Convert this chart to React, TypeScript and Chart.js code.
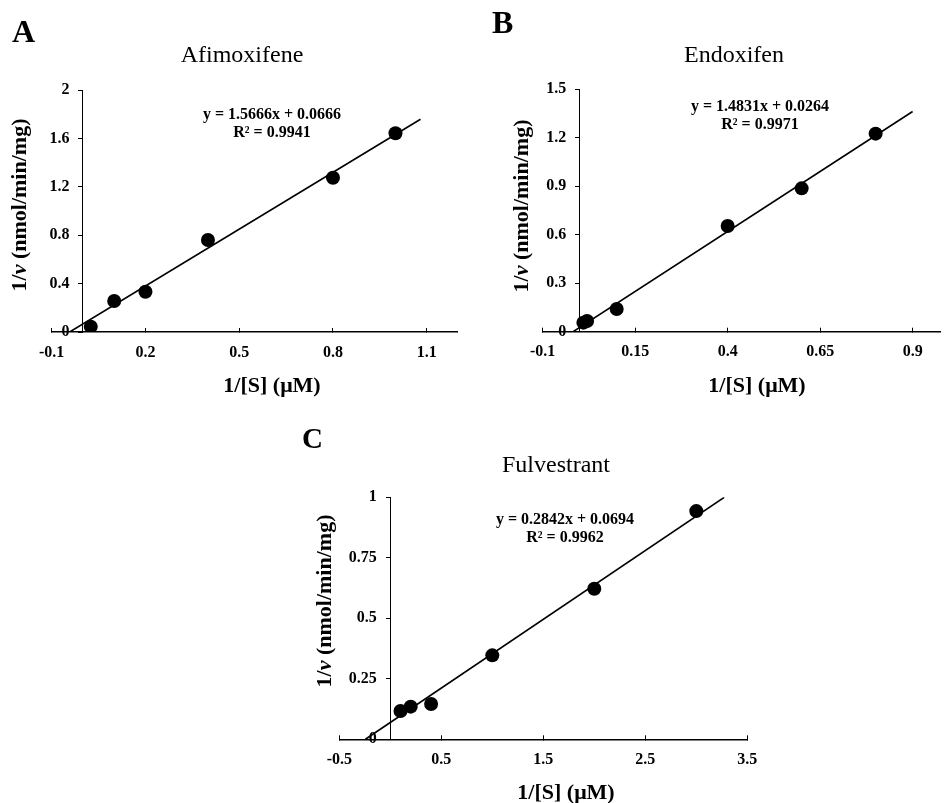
import React, { useEffect, useRef } from "react";
import { Chart, registerables, LinearScale } from "chart.js";

// Linear scale whose labels keep their tick length + padding away from an axis
// that is placed at a data value (position: { x: 0 }).
class OffsetLinearScale extends (LinearScale as any) {
  static id = "offsetLinear";
  static defaults = (LinearScale as any).defaults;
  _computeLabelItems(chartArea: any) {
    const items = super._computeLabelItems(chartArea);
    const opts = this.options;
    const off = (opts.grid.drawTicks ? opts.grid.tickLength : 0) + opts.ticks.padding;
    items.forEach((it: any) => {
      const t = it.options.translation;
      it.options.translation = [t[0] - off, t[1]];
    });
    return items;
  }
}

Chart.register(...registerables, OffsetLinearScale as any);

const FONT = "'Liberation Serif', 'Times New Roman', serif";
const PAGE_W = 947;
const PAGE_H = 803;

// ---------- Panel A: Afimoxifene ----------
const afimoxX = [0.025, 0.1, 0.2, 0.4, 0.8, 1.0];
const afimoxY = [0.044, 0.256, 0.333, 0.76, 1.275, 1.642];
const afimoxXTicks = [-0.1, 0.2, 0.5, 0.8, 1.1];
const afimoxYTicks = [0, 0.4, 0.8, 1.2, 1.6, 2];
const afimoxFit = [1.5666, 0.0666]; // slope, intercept
const afimoxR2 = "0.9941";
const afimoxFitRange = [-0.0425, 1.08];

// ---------- Panel B: Endoxifen ----------
const endoxX = [0.01, 0.02, 0.1, 0.4, 0.6, 0.8];
const endoxY = [0.056, 0.066, 0.14, 0.653, 0.886, 1.224];
const endoxXTicks = [-0.1, 0.15, 0.4, 0.65, 0.9];
const endoxYTicks = [0, 0.3, 0.6, 0.9, 1.2, 1.5];
const endoxFit = [1.4831, 0.0264];
const endoxR2 = "0.9971";
const endoxFitRange = [-0.0178, 0.9];

// ---------- Panel C: Fulvestrant ----------
const fulvX = [0.1, 0.2, 0.4, 1.0, 2.0, 3.0];
const fulvY = [0.117, 0.135, 0.146, 0.347, 0.622, 0.943];
const fulvXTicks = [-0.5, 0.5, 1.5, 2.5, 3.5];
const fulvYTicks = [0, 0.25, 0.5, 0.75, 1];
const fulvFit = [0.2842, 0.0694];
const fulvR2 = "0.9962";
const fulvFitRange = [-0.244, 3.274];

type Panel = {
  letter: string;
  title: string;
  xs: number[];
  ys: number[];
  xTicks: number[];
  yTicks: number[];
  xRange: number[];
  yRange: number[];
  fit: number[];
  r2: string;
  fitRange: number[];
  area: { left: number; top: number; right: number; bottom: number };
  letterPos: number[];
  letterSize: number;
  titlePos: number[];
  eqPos: number[];
  xTitlePos: number[];
  yTitlePos: number[];
};

const panels: Panel[] = [
  {
    letter: "A",
    title: "Afimoxifene",
    xs: afimoxX,
    ys: afimoxY,
    xTicks: afimoxXTicks,
    yTicks: afimoxYTicks,
    xRange: [-0.1, 1.2],
    yRange: [0, 2],
    fit: afimoxFit,
    r2: afimoxR2,
    fitRange: afimoxFitRange,
    area: { left: 51.7, top: 90, right: 458, bottom: 332 },
    letterPos: [12, 42],
    letterSize: 32,
    titlePos: [242, 62],
    eqPos: [272, 115, 133],
    xTitlePos: [272, 386],
    yTitlePos: [20, 205],
  },
  {
    letter: "B",
    title: "Endoxifen",
    xs: endoxX,
    ys: endoxY,
    xTicks: endoxXTicks,
    yTicks: endoxYTicks,
    xRange: [-0.1, 0.974],
    yRange: [0, 1.5],
    fit: endoxFit,
    r2: endoxR2,
    fitRange: endoxFitRange,
    area: { left: 542.7, top: 89, right: 947, bottom: 331.7 },
    letterPos: [492, 33],
    letterSize: 32,
    titlePos: [734, 62],
    eqPos: [760, 107, 125],
    xTitlePos: [757, 386],
    yTitlePos: [522, 206],
  },
  {
    letter: "C",
    title: "Fulvestrant",
    xs: fulvX,
    ys: fulvY,
    xTicks: fulvXTicks,
    yTicks: fulvYTicks,
    xRange: [-0.5, 3.5],
    yRange: [0, 1],
    fit: fulvFit,
    r2: fulvR2,
    fitRange: fulvFitRange,
    area: { left: 339.3, top: 497.3, right: 747.3, bottom: 739.3 },
    letterPos: [302, 448],
    letterSize: 29,
    titlePos: [556, 472],
    eqPos: [565, 520, 538],
    xTitlePos: [566, 793],
    yTitlePos: [325, 601],
  },
];

const X_AXIS_H = 30;

function makePlugin(p: Panel) {
  return {
    id: "panelText" + p.letter,
    afterDraw(chart: any) {
      const ctx: CanvasRenderingContext2D = chart.ctx;
      ctx.save();
      ctx.fillStyle = "#000";

      // panel letter
      ctx.font = `bold ${p.letterSize}px ${FONT}`;
      ctx.textAlign = "left";
      ctx.textBaseline = "alphabetic";
      ctx.fillText(p.letter, p.letterPos[0], p.letterPos[1]);

      // title
      ctx.font = `24px ${FONT}`;
      ctx.textAlign = "center";
      ctx.fillText(p.title, p.titlePos[0], p.titlePos[1]);

      // regression equation
      ctx.font = `bold 16px ${FONT}`;
      ctx.textBaseline = "middle";
      ctx.fillText(`y = ${p.fit[0]}x + ${p.fit[1]}`, p.eqPos[0], p.eqPos[1]);
      ctx.fillText(`R\u00B2 = ${p.r2}`, p.eqPos[0], p.eqPos[2]);

      // x-axis title
      ctx.font = `bold 22px ${FONT}`;
      ctx.fillText("1/[S] (\u03BCM)", p.xTitlePos[0], p.xTitlePos[1]);

      // y-axis title with italic v
      const parts: [string, string][] = [
        ["1/", `bold 22px ${FONT}`],
        ["v", `italic bold 22px ${FONT}`],
        [" (nmol/min/mg)", `bold 22px ${FONT}`],
      ];
      let total = 0;
      const widths = parts.map(([t, f]) => {
        ctx.font = f;
        const w = ctx.measureText(t).width;
        total += w;
        return w;
      });
      ctx.translate(p.yTitlePos[0], p.yTitlePos[1]);
      ctx.rotate(-Math.PI / 2);
      ctx.textAlign = "left";
      ctx.textBaseline = "middle";
      let cx = -total / 2;
      parts.forEach(([t, f], i) => {
        ctx.font = f;
        ctx.fillText(t, cx, 0);
        cx += widths[i];
      });
      ctx.restore();
    },
  };
}

function buildConfig(p: Panel): any {
  const tickFont = { family: FONT, size: 16, weight: "bold" as const };
  const points = p.xs.map((x, i) => ({ x, y: p.ys[i] }));
  const line = p.fitRange.map((x) => ({ x, y: p.fit[0] * x + p.fit[1] }));
  return {
    type: "scatter",
    data: {
      datasets: [
        {
          data: points,
          showLine: false,
          pointRadius: 7,
          pointBackgroundColor: "#000",
          pointBorderColor: "#000",
          pointBorderWidth: 0,
          order: 0,
        },
        {
          data: line,
          showLine: true,
          borderColor: "#000",
          borderWidth: 1.6,
          pointRadius: 0,
          order: 1,
        },
      ],
    },
    options: {
      responsive: false,
      animation: false,
      devicePixelRatio: 1,
      events: [],
      layout: {
        padding: {
          left: p.area.left,
          top: p.area.top,
          right: PAGE_W - p.area.right,
          bottom: PAGE_H - p.area.bottom - X_AXIS_H,
        },
      },
      plugins: {
        legend: { display: false },
        tooltip: { enabled: false },
        title: { display: false },
      },
      scales: {
        x: {
          type: "linear",
          position: "bottom",
          min: p.xRange[0],
          max: p.xRange[1],
          afterBuildTicks: (s: any) => {
            s.ticks = p.xTicks.map((v) => ({ value: v }));
          },
          afterFit: (s: any) => {
            s.height = X_AXIS_H;
          },
          grid: {
            display: true,
            drawOnChartArea: false,
            drawTicks: true,
            tickLength: -4,
            color: "#000",
            lineWidth: 1,
          },
          border: { display: true, color: "#000", width: 1.5 },
          ticks: {
            font: tickFont,
            color: "#000",
            padding: 15,
            autoSkip: false,
            maxRotation: 0,
            callback: (v: any) => String(v),
          },
          title: { display: false },
        },
        y: {
          type: "offsetLinear",
          position: { x: 0 },
          min: p.yRange[0],
          max: p.yRange[1],
          afterBuildTicks: (s: any) => {
            s.ticks = p.yTicks.map((v) => ({ value: v }));
          },
          afterFit: (s: any) => {
            s.width = 0;
          },
          grid: {
            display: true,
            drawOnChartArea: false,
            drawTicks: true,
            tickLength: 4,
            color: "#000",
            lineWidth: 1,
          },
          border: { display: true, color: "#000", width: 1 },
          ticks: {
            font: tickFont,
            color: "#000",
            padding: 9.5,
            autoSkip: false,
            callback: (v: any) => String(v),
          },
          title: { display: false },
        },
      },
    },
    plugins: [makePlugin(p)],
  };
}

export default function App() {
  const refs = [
    useRef<HTMLCanvasElement>(null),
    useRef<HTMLCanvasElement>(null),
    useRef<HTMLCanvasElement>(null),
  ];

  useEffect(() => {
    const charts: Chart[] = [];
    panels.forEach((p, i) => {
      const c = refs[i].current;
      if (c) charts.push(new Chart(c, buildConfig(p)));
    });
    return () => charts.forEach((ch) => ch.destroy());
  }, []);

  return (
    <div
      style={{
        position: "absolute",
        left: 0,
        top: 0,
        width: PAGE_W,
        height: PAGE_H,
        overflow: "hidden",
        background: "#fff",
      }}
    >
      {panels.map((p, i) => (
        <canvas
          key={p.letter}
          ref={refs[i]}
          width={PAGE_W}
          height={PAGE_H}
          style={{
            position: "absolute",
            left: 0,
            top: 0,
            width: PAGE_W,
            height: PAGE_H,
            display: "block",
          }}
        />
      ))}
    </div>
  );
}
